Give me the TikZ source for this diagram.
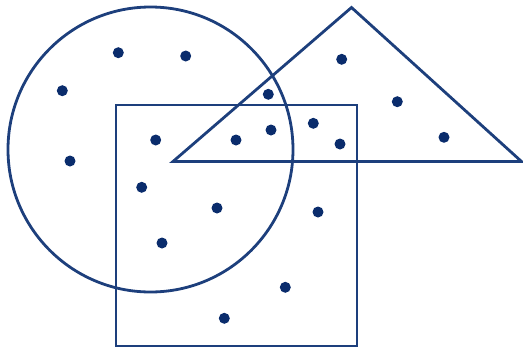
\documentclass[tikz,border=0pt]{standalone}
\usepackage{tikz}
\definecolor{cline}{HTML}{1D3F7C}
\definecolor{cdot}{HTML}{0A2C6C}
\tikzset{
  outline/.style={draw=cline, line width=2.8pt, line join=miter},
  pt/.style={circle, fill=cdot, inner sep=0pt, minimum size=11pt},
}
\begin{document}
\begin{tikzpicture}[x=1pt,y=-1pt]
\useasboundingbox (0,0) rectangle (523,349);
% shapes
\draw[outline] (150.5,149.5) circle[radius=142.5pt];
\draw[outline] (116,105) rectangle (357,346);
\draw[outline] (173,161.5) -- (351.5,7.5) -- (521.5,161.5) -- cycle;
% dots in circle only
\node[pt] (c1) at (118.3,52.7) {};
\node[pt] (c2) at (185.7,56) {};
\node[pt] (c3) at (62.3,90.7) {};
\node[pt] (c4) at (70,161) {};
% circle and square
\node[pt] (cs1) at (155.7,140) {};
\node[pt] (cs2) at (141.7,187.3) {};
\node[pt] (cs3) at (217,208) {};
\node[pt] (cs4) at (162,243) {};
% circle and triangle
\node[pt] (ct1) at (268.3,94.3) {};
% all three
\node[pt] (a1) at (236,140) {};
\node[pt] (a2) at (271,130) {};
% square and triangle
\node[pt] (st1) at (313.3,123.3) {};
\node[pt] (st2) at (340,144) {};
% triangle only
\node[pt] (t1) at (341.7,59.3) {};
\node[pt] (t2) at (397.3,101.7) {};
\node[pt] (t3) at (444,137.3) {};
% square only
\node[pt] (s1) at (318,212) {};
\node[pt] (s2) at (285.3,287.3) {};
\node[pt] (s3) at (224.3,318.3) {};
\end{tikzpicture}
\end{document}
